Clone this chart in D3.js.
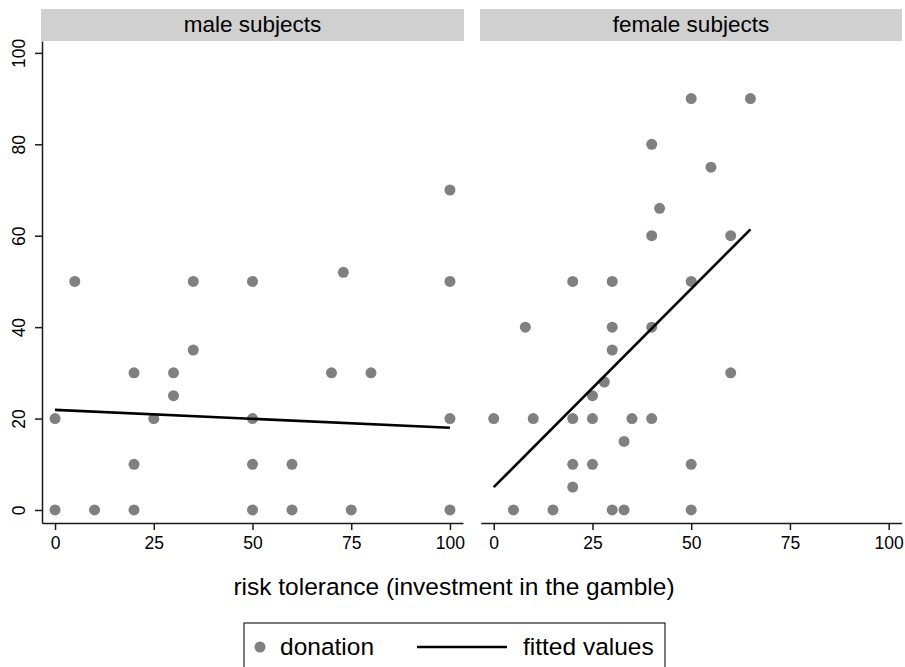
<!DOCTYPE html>
<html>
<head>
<meta charset="utf-8">
<script src="https://cdn.jsdelivr.net/npm/d3@7/dist/d3.min.js"></script>
<style>
  body { margin: 0; background: #fff; }
  svg { display: block; font-family: "Liberation Sans", Arial, sans-serif; }
</style>
</head>
<body>
<svg id="chart" width="905" height="667"></svg>
<script>
// ---- data ----
const panels = ["male subjects", "female subjects"];
const xTicks = [0, 25, 50, 75, 100];
const yTicks = [0, 20, 40, 60, 80, 100];

const maleRisk     = [0, 10, 20, 50, 60, 75, 100, 20, 50, 60, 0, 25, 50, 100, 30, 20, 30, 70, 80, 35, 5, 35, 50, 100, 73, 100];
const maleDonation = [0, 0, 0, 0, 0, 0, 0, 10, 10, 10, 20, 20, 20, 20, 25, 30, 30, 30, 30, 35, 50, 50, 50, 50, 52, 70];

const femaleRisk     = [0, 5, 8, 10, 15, 20, 20, 20, 20, 25, 25, 25, 28, 30, 30, 30, 30, 33, 33, 35, 40, 40, 50, 50, 50, 60, 50, 65, 40, 55, 42, 40, 60];
const femaleDonation = [20, 0, 40, 20, 0, 50, 20, 10, 5, 25, 20, 10, 28, 50, 40, 35, 0, 15, 0, 20, 40, 20, 50, 10, 0, 30, 90, 90, 80, 75, 66, 60, 60];

// fitted values (endpoints)
const maleFitX = [0, 100];
const maleFitY = [21.9, 18.0];
const femaleFitX = [0, 65];
const femaleFitY = [5.0, 61.4];

const legendLabels = ["donation", "fitted values"];
const xTitle = "risk tolerance (investment in the gamble)";

// ---- drawing ----
const svg = d3.select("#chart");
const dotColor = "#808080";
const axisColor = "#1a1a1a";
const tickFont = 17.5;
const bigFont = 24.5;

const y = d3.scaleLinear().domain([-2.85, 102.6]).range([523, 41]);

const panelDefs = [
  { name: panels[0], range: [42, 463], header: [41, 464], xs: maleRisk, ys: maleDonation, fx: maleFitX, fy: maleFitY, yAxis: true },
  { name: panels[1], range: [480.7, 901.7], header: [480, 902], xs: femaleRisk, ys: femaleDonation, fx: femaleFitX, fy: femaleFitY, yAxis: false }
];

panelDefs.forEach(p => {
  const x = d3.scaleLinear().domain([-3.3, 103.3]).range(p.range);

  // header strip
  svg.append("rect")
    .attr("x", p.header[0]).attr("y", 9)
    .attr("width", p.header[1] - p.header[0]).attr("height", 32)
    .attr("fill", "#d0d0d0");
  svg.append("text")
    .attr("x", (p.header[0] + p.header[1]) / 2).attr("y", 31.5)
    .attr("text-anchor", "middle")
    .attr("font-size", 22.5).attr("fill", "#000")
    .text(p.name);

  // x axis
  const gx = svg.append("g").attr("transform", "translate(0,523)")
    .call(d3.axisBottom(x).tickValues(xTicks).tickSizeInner(7).tickSizeOuter(0).tickPadding(7));
  gx.attr("font-size", tickFont).attr("font-family", "Liberation Sans, Arial, sans-serif");
  gx.select(".domain").attr("stroke", axisColor).attr("stroke-width", 1.5);
  gx.selectAll(".tick line").attr("stroke", axisColor).attr("stroke-width", 1.5);
  gx.selectAll(".tick text").attr("font-size", tickFont).attr("fill", "#000");

  if (p.yAxis) {
    const gy = svg.append("g").attr("transform", `translate(${p.range[0]},0)`)
      .call(d3.axisLeft(y).tickValues(yTicks).tickSizeInner(7).tickSizeOuter(0).tickPadding(0));
    gy.attr("font-size", tickFont).attr("font-family", "Liberation Sans, Arial, sans-serif");
    gy.select(".domain").attr("stroke", axisColor).attr("stroke-width", 1.5);
    gy.selectAll(".tick line").attr("stroke", axisColor).attr("stroke-width", 1.5);
    gy.selectAll(".tick text")
      .attr("font-size", tickFont).attr("fill", "#000")
      .attr("text-anchor", "middle").attr("dy", null).attr("x", null)
      .attr("transform", "translate(-23,0) rotate(-90)")
      .attr("dominant-baseline", "central");
  }

  // points
  svg.append("g").selectAll("circle")
    .data(p.xs.map((v, i) => [v, p.ys[i]]))
    .join("circle")
    .attr("cx", d => x(d[0])).attr("cy", d => y(d[1]))
    .attr("r", 5.5).attr("fill", dotColor);

  // fitted line
  svg.append("path")
    .datum(p.fx.map((v, i) => [v, p.fy[i]]))
    .attr("d", d3.line().x(d => x(d[0])).y(d => y(d[1])))
    .attr("stroke", "#000").attr("stroke-width", 2.6).attr("fill", "none");
});

// x title
svg.append("text")
  .attr("x", 454).attr("y", 595)
  .attr("text-anchor", "middle")
  .attr("font-size", bigFont).attr("fill", "#000")
  .text(xTitle);

// legend
const lg = svg.append("g");
lg.append("rect").attr("x", 244).attr("y", 623).attr("width", 421).attr("height", 60)
  .attr("fill", "#fff").attr("stroke", "#222").attr("stroke-width", 1.2);
lg.append("circle").attr("cx", 260).attr("cy", 647).attr("r", 5.5).attr("fill", dotColor);
lg.append("text").attr("x", 280).attr("y", 655).attr("font-size", bigFont).attr("fill", "#000").text(legendLabels[0]);
lg.append("line").attr("x1", 417).attr("x2", 507).attr("y1", 647).attr("y2", 647)
  .attr("stroke", "#000").attr("stroke-width", 2.6);
lg.append("text").attr("x", 523).attr("y", 655).attr("font-size", bigFont).attr("fill", "#000").text(legendLabels[1]);
</script>
</body>
</html>
